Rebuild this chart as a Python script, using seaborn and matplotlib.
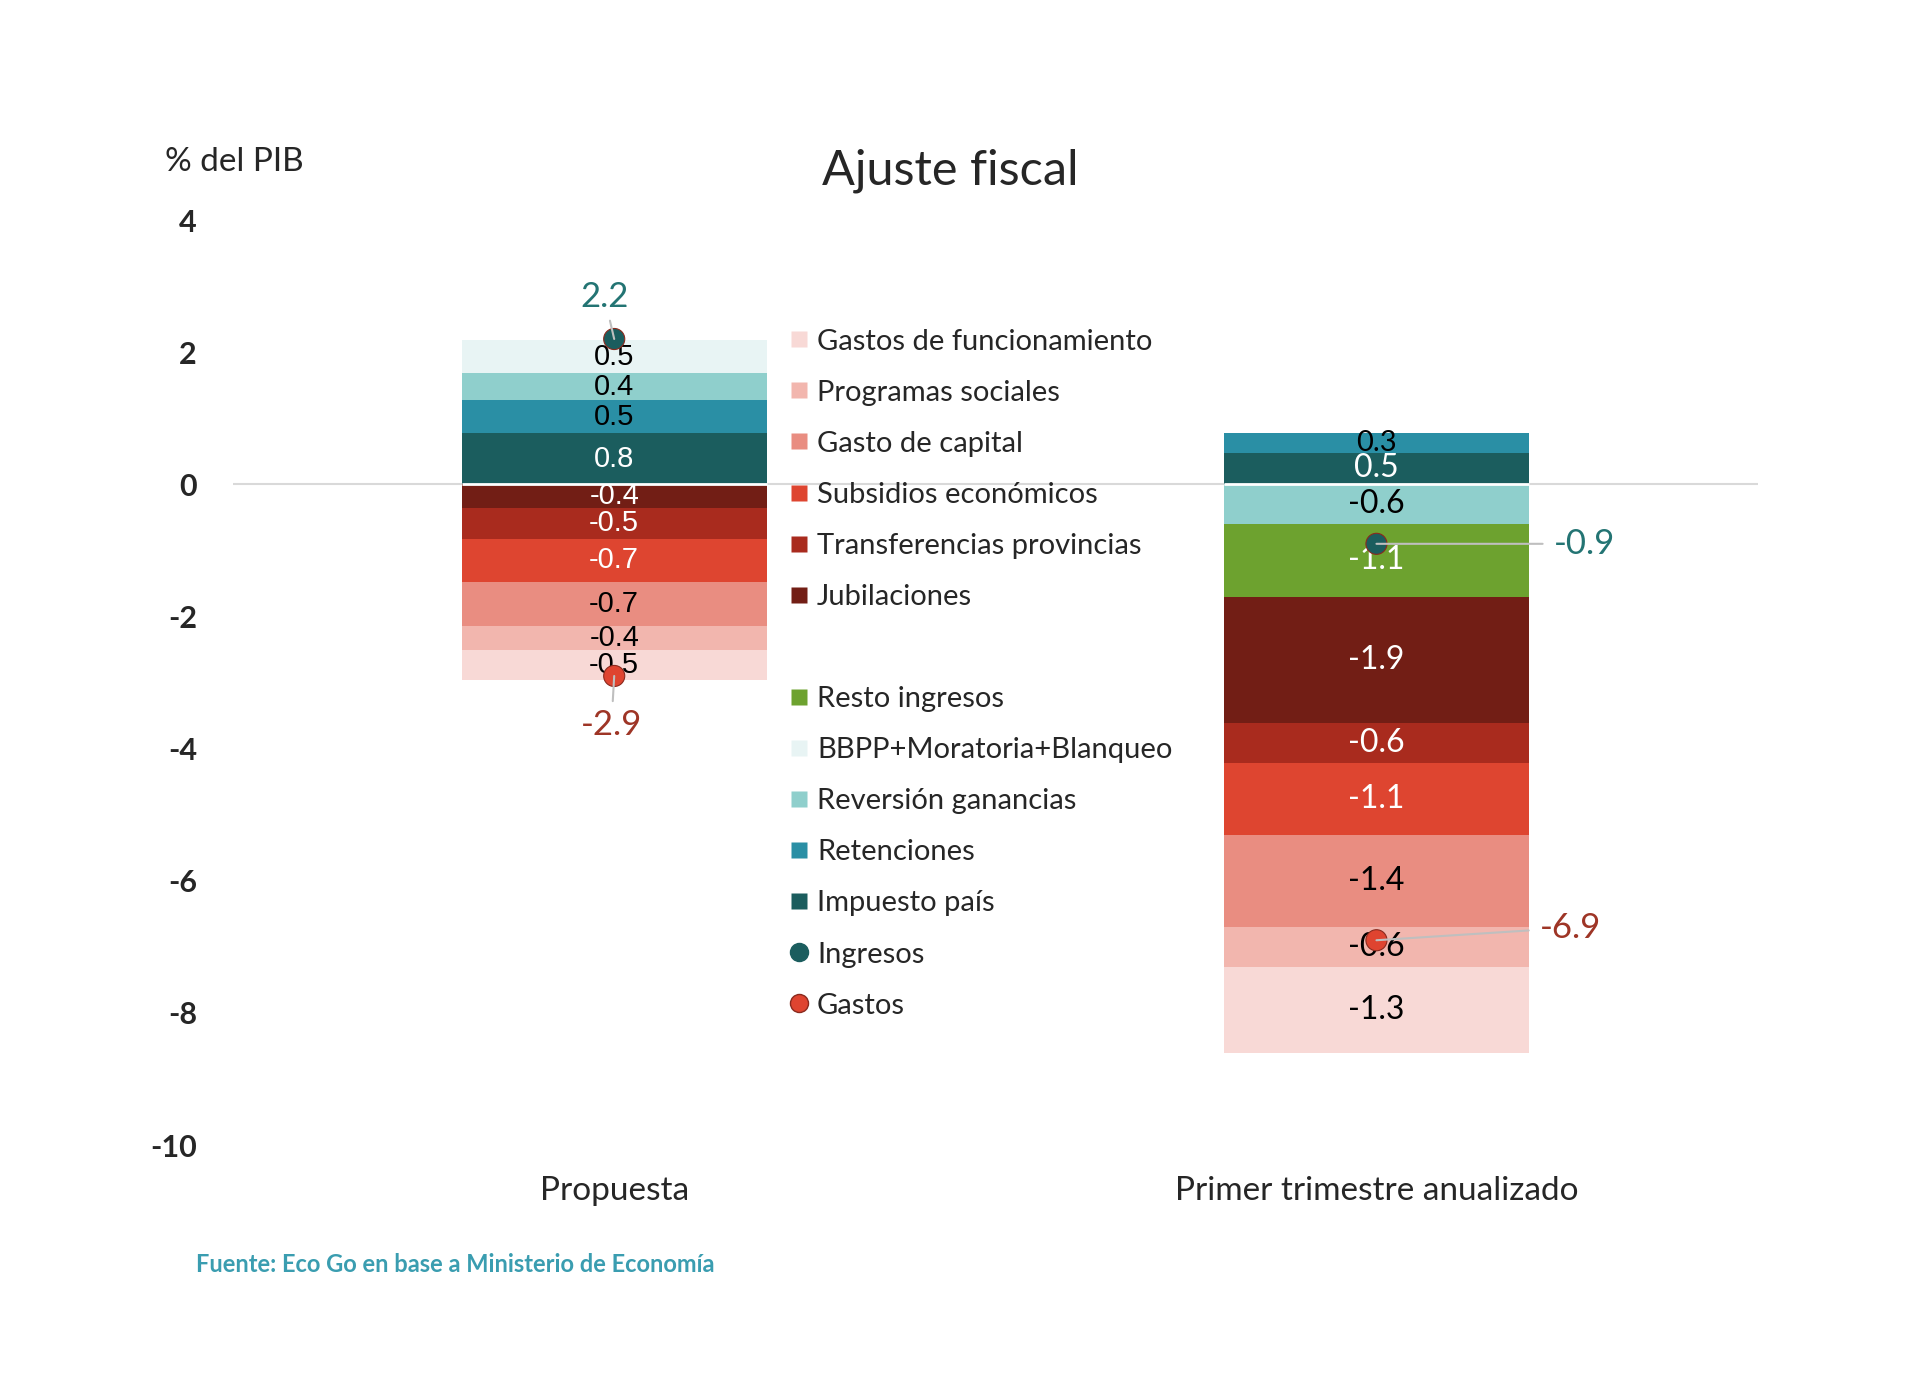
import pandas as pd
import seaborn as sns
import matplotlib.pyplot as plt
from matplotlib.lines import Line2D

# ---- data ----
categorias = ["Propuesta", "Primer trimestre anualizado"]

# stacking order: from zero outwards
series = ["Impuesto país", "Retenciones", "Reversión ganancias",
          "BBPP+Moratoria+Blanqueo", "Resto ingresos", "Jubilaciones",
          "Transferencias provincias", "Subsidios económicos",
          "Gasto de capital", "Programas sociales", "Gastos de funcionamiento"]
impuesto_pais = [0.78, 0.48]
retenciones = [0.49, 0.30]
reversion_ganancias = [0.41, -0.60]
bbpp = [0.51, 0.0]
resto_ingresos = [0.0, -1.10]
jubilaciones = [-0.36, -1.91]
transferencias = [-0.46, -0.60]
subsidios = [-0.66, -1.10]
gasto_capital = [-0.66, -1.39]
programas_sociales = [-0.36, -0.61]
gastos_funcionamiento = [-0.46, -1.29]

ingresos_total = [2.2, -0.9]
gastos_total = [-2.9, -6.9]

legend_order = ["Gastos de funcionamiento", "Programas sociales", "Gasto de capital",
                "Subsidios económicos", "Transferencias provincias", "Jubilaciones",
                None, "Resto ingresos", "BBPP+Moratoria+Blanqueo",
                "Reversión ganancias", "Retenciones", "Impuesto país"]

colores = {
    "Gastos de funcionamiento": "#F8D9D6",
    "Programas sociales": "#F2B6AE",
    "Gasto de capital": "#E98D81",
    "Subsidios económicos": "#DE4530",
    "Transferencias provincias": "#A92B1E",
    "Jubilaciones": "#721E15",
    "Resto ingresos": "#6DA22F",
    "BBPP+Moratoria+Blanqueo": "#E8F4F4",
    "Reversión ganancias": "#8FCFCC",
    "Retenciones": "#2A8FA5",
    "Impuesto país": "#1B5D5E",
}
texto_blanco = {"Impuesto país", "Resto ingresos", "Jubilaciones",
                "Transferencias provincias", "Subsidios económicos"}

valores = [impuesto_pais, retenciones, reversion_ganancias, bbpp, resto_ingresos,
           jubilaciones, transferencias, subsidios, gasto_capital,
           programas_sociales, gastos_funcionamiento]
df = pd.DataFrame(valores, index=series, columns=categorias)

# ---- style ----
sns.set_theme(style="white")
plt.rcParams["font.family"] = ["Lato", "DejaVu Sans"]
plt.rcParams["axes.unicode_minus"] = False

fig = plt.figure(figsize=(19.2, 13.92), dpi=100)
ax = fig.add_axes([0.1214, 0.1774, 0.794, 0.6645])

pos = [0, 1]
ancho = 0.4
label_fams = [["Liberation Sans", "DejaVu Sans"], ["Lato", "DejaVu Sans"]]
label_sizes = [21, 23]

ax.axhline(0, color="#D9D9D9", lw=1.5, zorder=0)

for i, cat in enumerate(categorias):
    arriba, abajo = 0.0, 0.0
    for s in series:
        v = df.loc[s, cat]
        if v == 0:
            continue
        if v > 0:
            base = arriba
            arriba += v
        else:
            base = abajo
            abajo += v
        # thin segments get a slightly smaller label
        fs = label_sizes[i] if abs(v) >= 0.35 else label_sizes[i] - 2
        ax.bar(pos[i], v, width=ancho, bottom=base, color=colores[s],
               edgecolor="none", zorder=2)
        ax.text(pos[i], base + v / 2, f"{v:.1f}", ha="center", va="center",
                fontsize=fs, family=label_fams[i],
                color="white" if s in texto_blanco else "black", zorder=5)
    ax.hlines(0, pos[i] - ancho / 2, pos[i] + ancho / 2, color="white", lw=2, zorder=3)

puntos = pd.DataFrame({"x": pos * 2,
                       "y": ingresos_total + gastos_total,
                       "tipo": ["Ingresos"] * 2 + ["Gastos"] * 2})
sns.scatterplot(data=puntos, x="x", y="y", hue="tipo",
                palette={"Ingresos": "#1B5D5E", "Gastos": "#DF4430"},
                s=230, edgecolor="#8A2A1E", linewidth=0.8, legend=False,
                zorder=6, ax=ax)

gris = "#BFBFBF"
col_ing = "#237473"
col_gas = "#9E3526"
ax.annotate(f"{ingresos_total[0]:.1f}", xy=(pos[0], ingresos_total[0]),
            xytext=(-7, 30), textcoords="offset points", ha="center", va="center",
            fontsize=25, color=col_ing, zorder=7,
            arrowprops=dict(arrowstyle="-", color=gris, lw=1.5, shrinkA=3, shrinkB=0))
ax.annotate(f"{gastos_total[0]:.1f}", xy=(pos[0], gastos_total[0]),
            xytext=(-2, -35), textcoords="offset points", ha="center", va="center",
            fontsize=25, color=col_gas, zorder=7,
            arrowprops=dict(arrowstyle="-", color=gris, lw=1.5, shrinkA=3, shrinkB=0))
ax.annotate(f"{ingresos_total[1]:.1f}", xy=(pos[1], ingresos_total[1]),
            xytext=(128, 0), textcoords="offset points", ha="left", va="center",
            fontsize=25, color=col_ing, zorder=7,
            arrowprops=dict(arrowstyle="-", color=gris, lw=1.5, shrinkA=6, shrinkB=0))
ax.annotate(f"{gastos_total[1]:.1f}", xy=(pos[1], gastos_total[1]),
            xytext=(118, 9), textcoords="offset points", ha="left", va="center",
            fontsize=25, color=col_gas, zorder=7,
            arrowprops=dict(arrowstyle="-", color=gris, lw=1.5, shrinkA=6, shrinkB=0))

ax.set_xlim(-0.5, 1.5)
ax.set_ylim(-10, 4)
ax.set_yticks(range(-10, 5, 2))
ax.set_yticklabels([str(t) for t in range(-10, 5, 2)], fontsize=22, fontweight="bold")
ax.set_xticks(pos)
ax.set_xticklabels(categorias, fontsize=24)
ax.tick_params(axis="y", length=0, pad=26)
ax.tick_params(axis="x", length=0, pad=22)
ax.set_xlabel("")
ax.set_ylabel("")
sns.despine(ax=ax, left=True, bottom=True)

# ---- legend ----
handles = []
for nombre in legend_order:
    if nombre is None:
        handles.append(Line2D([], [], linestyle="none", marker="", label=" "))
    else:
        handles.append(Line2D([], [], linestyle="none", marker="s", markersize=11,
                              markerfacecolor=colores[nombre], markeredgecolor="none",
                              label=nombre))
handles.append(Line2D([], [], linestyle="none", marker="o", markersize=13,
                      markerfacecolor="#1B5D5E", markeredgecolor="#1B5D5E", label="Ingresos"))
handles.append(Line2D([], [], linestyle="none", marker="o", markersize=13,
                      markerfacecolor="#DF4430", markeredgecolor="#8A2A1E", label="Gastos"))
fig.legend(handles=handles, loc="upper left", bbox_to_anchor=(0.4115, 0.764),
           frameon=False, fontsize=21, handlelength=0.62, handletextpad=0.3,
           borderpad=0, borderaxespad=0, labelspacing=0.86)

fig.text(950 / 1920, 1 - 171 / 1392, "Ajuste fiscal", ha="center", va="center", fontsize=35)
fig.text(165 / 1920, 1 - 162 / 1392, "% del PIB", ha="left", va="center", fontsize=24)
fig.text(196 / 1920, 1 - 1264 / 1392, "Fuente: Eco Go en base a Ministerio de Economía",
         ha="left", va="center", fontsize=17, fontweight="bold", color="#3A9DB0")

fig.savefig("out.png", dpi=100)
